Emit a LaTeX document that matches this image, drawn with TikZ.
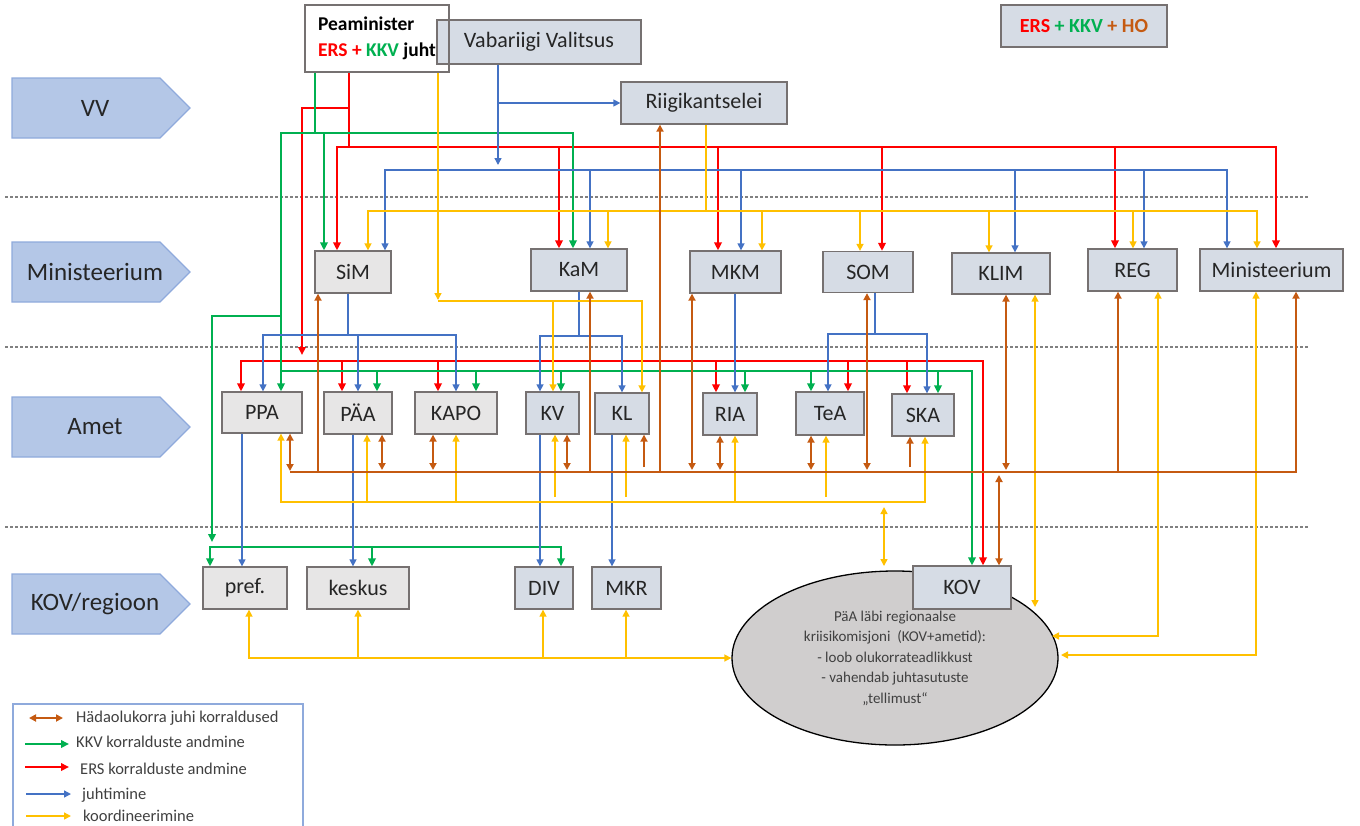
\documentclass[tikz,border=0pt]{standalone}
\usepackage{fontspec}
\setmainfont{Carlito}
\usetikzlibrary{arrows.meta, shapes.geometric}

\definecolor{ersred}{HTML}{FF0000}
\definecolor{kkvgreen}{HTML}{00B050}
\definecolor{juhtblue}{HTML}{4472C4}
\definecolor{koordyel}{HTML}{FFC000}
\definecolor{hobrown}{HTML}{C55A11}
\definecolor{boxgray}{HTML}{E7E6E6}
\definecolor{boxblue}{HTML}{D6DCE5}
\definecolor{boxline}{HTML}{767171}
\definecolor{lanefill}{HTML}{B4C7E7}
\definecolor{laneline}{HTML}{8FAADC}
\definecolor{ellfill}{HTML}{D0CECE}
\definecolor{txtgray}{HTML}{404040}

\begin{document}
\begin{tikzpicture}[x=1pt, y=-1pt,
        % Styles
        govbox/.style={rectangle, draw=boxline, line width=1.3pt, fill=boxblue, inner sep=0pt,
                font=\fontsize{22}{26}\selectfont, text=black!85},
        greybox/.style={govbox, fill=boxgray},
        sz/.style 2 args={minimum width=#1pt, minimum height=#2pt},
        lane/.style={draw=laneline, line width=1.3pt, fill=lanefill},
        lanetxt/.style={font=\fontsize{25}{28}\selectfont, text=black!85, inner sep=0pt},
        divline/.style={draw=black!50, line width=1.2pt, dash pattern=on 2.5pt off 2.5pt},
        ers/.style={draw=ersred, line width=2.2pt, >={Triangle[length=8pt, width=7.5pt]}},
        kkv/.style={draw=kkvgreen, line width=2.2pt, >={Triangle[length=8pt, width=7.5pt]}},
        juht/.style={draw=juhtblue, line width=1.4pt, >={Triangle[length=7pt, width=7pt]}},
        koord/.style={draw=koordyel, line width=1.5pt, >={Triangle[length=7pt, width=7pt]}},
        ho/.style={draw=hobrown, line width=1.8pt, >={Triangle[length=7pt, width=7pt]}},
        lgdtxt/.style={anchor=west, inner sep=0pt, font=\fontsize{16.5}{19}\selectfont, text=txtgray},
        ]
        \useasboundingbox (0,0) rectangle (1360,825);

        % === LEVEL SEPARATORS ===
        \foreach \y in {197, 347, 527}
        \draw[divline] (5,\y) -- (1308,\y);

        % === LEVEL ARROWS ===
        \foreach \y/\t/\n in {108/VV/lvv, 272/Ministeerium/lmin, 427/Amet/lamet, 604/KOV\slash regioon/lkov} {
                \draw[lane] (12,\y-30) -- (160,\y-30) -- (190,\y) -- (160,\y+30) -- (12,\y+30) -- cycle;
                \node[lanetxt] (\n) at (95,\y) {\t};
        }

        % === TOP ===
        \node[govbox, sz={204}{44}] (vv) at (539,42) {Vabariigi Valitsus};
        \node[draw=boxline, line width=1.2pt, sz={144}{67}, align=left, inner sep=0pt,
                font=\bfseries\fontsize{19.5}{26}\selectfont] (pm) at (377,38.5)
                {Peaminister\\{\color{ersred}ERS + }{\color{kkvgreen}KKV }juht};
        \node[govbox, sz={166}{42}] (rk) at (704,103) {Riigikantselei};
        \node[govbox, sz={166}{42}, font=\bfseries\fontsize{20}{24}\selectfont] (hobox) at (1084,26)
                {{\color{ersred}ERS} {\color{kkvgreen}+ KKV} {\color{hobrown}+ HO}};

        % === MINISTEERIUM ===
        \node[greybox, sz={76}{42}] (SiM) at (353,272) {SiM};
        \node[govbox, sz={96}{42}] (KaM) at (579,270) {KaM};
        \node[govbox, sz={91}{42}] (MKM) at (735.5,272) {MKM};
        \node[govbox, sz={90}{41}] (SOM) at (868,272) {SOM};
        \node[govbox, sz={98}{41}] (KLIM) at (1001,273.5) {KLIM};
        \node[govbox, sz={89}{42}] (REG) at (1132.5,270) {REG};
        \node[govbox, sz={143}{42}] (Min) at (1271.5,270) {Ministeerium};

        % === AMET ===
        \node[greybox, sz={80}{41}] (PPA) at (262,412.5) {PPA};
        \node[greybox, sz={68}{42}] (PAA) at (358,413) {PÄA};
        \node[greybox, sz={82}{42}] (KAPO) at (456,413) {KAPO};
        \node[govbox, sz={53}{42}] (KV) at (552.5,413) {KV};
        \node[govbox, sz={54}{41}] (KL) at (622,413.5) {KL};
        \node[govbox, sz={54}{42}] (RIA) at (730,414) {RIA};
        \node[govbox, sz={68}{43}] (TeA) at (830,413.5) {TeA};
        \node[govbox, sz={62}{42}] (SKA) at (923,415) {SKA};

        % === KOV / REGIOON ===
        \node[greybox, sz={84}{42}] (pref) at (245,588) {pref.};
        \node[greybox, sz={102}{42}] (kesk) at (358,588) {keskus};
        \node[govbox, sz={58}{42}] (DIV) at (544,588) {DIV};
        \node[govbox, sz={69}{42}] (MKR) at (626.5,588) {MKR};
        \node[ellipse, draw=black, line width=1.3pt, fill=ellfill, sz={326}{174}, inner sep=0pt,
                align=center, font=\fontsize{15}{20.5}\selectfont, text=txtgray] (ell) at (895,658)
                {PäA läbi regionaalse\\kriisikomisjoni\ \ (KOV+ametid):\\- loob olukorrateadlikkust\\- vahendab juhtasutuste\\„tellimust“};
        \node[govbox, sz={98}{43}] (KOV) at (962,587.5) {KOV};

        % === ERS (red) ===
        \draw[ers] (349,0 |- pm.south) -- (349,147);
        \draw[ers,<->] (337,0 |- SiM.north) |- (1276,147) -- (1276,0 |- Min.north);
        \foreach \x/\n in {559/KaM, 718/MKM, 882/SOM, 1115/REG}
        \draw[ers,->] (\x,147) -- (\x,0 |- \n.north);
        \draw[ers,->] (349,108) -| (302,355);
        \draw[ers,<->] (241,0 |- PPA.north) |- (983,361) -- (983,0 |- KOV.north);
        \foreach \x/\n in {342/PAA, 438/KAPO, 716/RIA, 848/TeA, 907/SKA}
        \draw[ers,->] (\x,361) -- (\x,0 |- \n.north);

        % === KKV (green) ===
        \draw[kkv] (315,0 |- pm.south) -- (315,133);
        \draw[kkv,<->] (281,0 |- PPA.north) |- (573,133) -- (573,0 |- KaM.north);
        \draw[kkv,->] (324,133) -- (324,0 |- SiM.north);
        \draw[kkv,->] (281,316) -| (212,542);
        \draw[kkv,<->] (210,0 |- pref.north) |- (561,547) -- (561,0 |- DIV.north);
        \draw[kkv,->] (372,547) -- (372,0 |- kesk.north);
        \draw[kkv,->] (281,371) -| (972,0 |- KOV.north);
        \foreach \x/\n in {377/PAA, 476/KAPO, 561/KV, 745/RIA, 811/TeA, 938/SKA}
        \draw[kkv,->] (\x,371) -- (\x,0 |- \n.north);

        % === juhtimine (blue) ===
        \draw[juht,->] (498,0 |- vv.south) -- (498,165);
        \draw[juht,->] (498,103) -- (rk.west);
        \draw[juht,<->] (385,0 |- SiM.north) |- (1227,170) -- (1227,0 |- Min.north);
        \foreach \x/\n in {590/KaM, 741/MKM, 1015/KLIM, 1144/REG}
        \draw[juht,->] (\x,170) -- (\x,0 |- \n.north);
        \draw[juht] (348,0 |- SiM.south) -- (348,335);
        \draw[juht,<->] (263,0 |- PPA.north) |- (456,335) -- (456,0 |- KAPO.north);
        \draw[juht,->] (358,335) -- (358,0 |- PAA.north);
        \draw[juht] (579,0 |- KaM.south) -- (579,336);
        \draw[juht,<->] (540,0 |- KV.north) |- (622,336) -- (622,0 |- KL.north);
        \draw[juht,->] (735,0 |- MKM.south) -- (735,0 |- RIA.north);
        \draw[juht] (875,0 |- SOM.south) -- (875,334);
        \draw[juht,<->] (828,0 |- TeA.north) |- (927,334) -- (927,0 |- SKA.north);
        \foreach \x/\a/\b in {242/PPA/pref, 353/PAA/kesk, 540/KV/DIV, 612/KL/MKR}
        \draw[juht,->] (\x,0 |- \a.south) -- (\x,0 |- \b.north);

        % === koordineerimine (yellow) ===
        \draw[koord,->] (438,0 |- pm.south) -- (438,300);
        \draw[koord,->] (438,301) -| (642,0 |- KL.north);
        \draw[koord,->] (553,301) -- (553,0 |- KV.north);
        \draw[koord] (706,0 |- rk.south) -- (706,211);
        \draw[koord,<->] (368,0 |- SiM.north) |- (1257,211) -- (1257,0 |- Min.north);
        \foreach \x/\n in {608/KaM, 762/MKM, 860/SOM, 989/KLIM, 1133/REG}
        \draw[koord,->] (\x,211) -- (\x,0 |- \n.north);
        \draw[koord,<->] (281,0 |- PPA.south) |- (925,502) -- (925,0 |- SKA.south);
        \foreach \x/\n in {367/PAA, 456/KAPO, 735/RIA}
        \draw[koord,->] (\x,502) -- (\x,0 |- \n.south);
        \foreach \x/\n in {555/KV, 626/KL, 826/TeA}
        \draw[koord,->] (\x,497) -- (\x,0 |- \n.south);
        \draw[koord,<->] (884,507) -- (884,566);
        \draw[koord,<->] (1035,0 |- KLIM.south) -- (1035,607);
        \draw[koord,<->] (1158,0 |- REG.south) |- (1052,636);
        \draw[koord,<->] (1256,0 |- Min.south) |- (1061,655);
        \draw[koord,<->] (249,0 |- pref.south) |- (ell.west);
        \foreach \x/\n in {358/kesk, 543/DIV, 626/MKR}
        \draw[koord,->] (\x,658) -- (\x,0 |- \n.south);

        % === HO (brown) ===
        \draw[ho,<->] (290,0 |- PPA.south) -- (290,471);
        \draw[ho,->] (290,472) -| (1296,0 |- Min.south);
        \foreach \x/\n in {318/SiM, 590/KaM, 660/rk, 1118/REG}
        \draw[ho,->] (\x,472) -- (\x,0 |- \n.south);
        \foreach \x/\n in {382/PAA, 433/KAPO, 567/KV, 692/MKM, 720/RIA, 811/TeA, 867/SOM, 1006/KLIM}
        \draw[ho,<->] (\x,0 |- \n.south) -- (\x,470);
        \foreach \x/\n in {644/KL, 910/SKA}
        \draw[ho,->] (\x,467) -- (\x,0 |- \n.south);
        \draw[ho,<->] (999,475) -- (999,0 |- KOV.north);

        % === LEGEND ===
        \draw[draw=laneline, line width=1.3pt] (13,704) rectangle (303,840);
        \draw[ho,<->] (29,718) -- (63,718);
        \draw[kkv,->] (25,744) -- (69,744);
        \draw[ers,->] (25,767) -- (69,767);
        \draw[juht,->] (26,794) -- (71,794);
        \draw[koord,->] (26,816) -- (71,816);
        \node[lgdtxt] (lho) at (76,718) {Hädaolukorra juhi korraldused};
        \node[lgdtxt] (lkkv) at (76,742) {KKV korralduste andmine};
        \node[lgdtxt] (lers) at (80,769) {ERS korralduste andmine};
        \node[lgdtxt] (ljuht) at (82,795) {juhtimine};
        \node[lgdtxt] (lkoord) at (83,816) {koordineerimine};

\end{tikzpicture}
\end{document}
